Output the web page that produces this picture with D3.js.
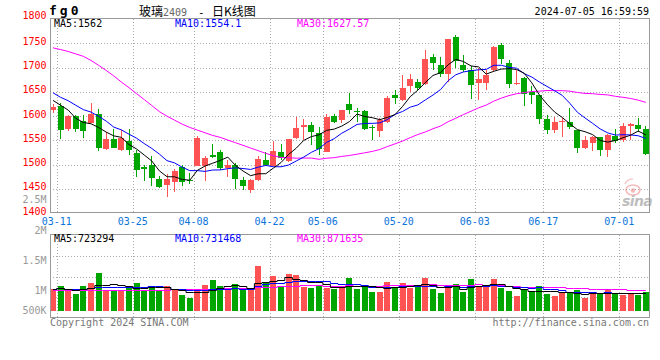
<!DOCTYPE html>
<html><head><meta charset="utf-8">
<script src="https://cdn.jsdelivr.net/npm/d3@7/dist/d3.min.js"></script>
<style>body{margin:0;background:#fff}svg{display:block}</style>
</head><body>
<svg id="c" width="660" height="360"></svg>
<script>
// ---------- data ----------
const dates = ["03-11","03-12","03-13","03-14","03-15","03-18","03-19","03-20","03-21","03-22",
"03-25","03-26","03-27","03-28","03-29","04-01","04-02","04-03","04-08","04-09",
"04-10","04-11","04-12","04-15","04-16","04-17","04-18","04-19","04-22","04-23",
"04-24","04-25","04-26","04-29","04-30","05-06","05-07","05-08","05-09","05-10",
"05-13","05-14","05-15","05-16","05-17","05-20","05-21","05-22","05-23","05-24",
"05-27","05-28","05-29","05-30","05-31","06-03","06-04","06-05","06-06","06-07",
"06-11","06-12","06-13","06-14","06-17","06-18","06-19","06-20","06-21","06-24",
"06-25","06-26","06-27","06-28","07-01","07-02","07-03","07-04","07-05"];
const openP = [1613,1620,1573,1600,1590,1586,1605,1532,1552,1529,1549,1524,1494,1498,1470,1458,1463,1494,1468,1497,
1497,1520,1526,1492,1499,1468,1448,1468,1509,1497,1525,1508,1554,1578,1581,1564,1526,1600,1591,1624,
1611,1611,1578,1570,1588,1643,1633,1661,1671,1667,1721,1706,1687,1762,1706,1694,1668,1668,1694,1747,
1710,1665,1679,1650,1643,1593,1572,1587,1588,1571,1535,1545,1556,1530,1559,1550,1580,1581,1574];
const highP = [1624,1627,1603,1602,1602,1627,1614,1568,1573,1571,1573,1529,1499,1518,1477,1481,1490,1499,1482,1559,
1518,1542,1530,1509,1503,1475,1470,1518,1525,1548,1542,1553,1598,1593,1588,1578,1604,1605,1613,1648,
1617,1612,1581,1595,1641,1654,1684,1686,1677,1736,1728,1721,1759,1768,1725,1704,1699,1694,1745,1750,
1716,1694,1680,1661,1643,1603,1597,1595,1617,1572,1559,1559,1557,1562,1574,1585,1585,1595,1579];
const lowP = [1606,1553,1570,1568,1554,1585,1527,1529,1533,1527,1520,1475,1465,1455,1451,1434,1444,1455,1460,1496,
1465,1513,1488,1475,1449,1447,1442,1466,1496,1496,1509,1506,1552,1550,1540,1520,1525,1585,1585,1605,
1588,1571,1550,1557,1586,1624,1631,1650,1653,1663,1695,1680,1670,1699,1690,1636,1632,1653,1690,1708,
1658,1663,1620,1624,1583,1563,1564,1556,1574,1524,1531,1527,1518,1515,1545,1547,1550,1568,1520];
const closeP = [1618,1571,1600,1574,1570,1605,1533,1552,1535,1555,1530,1488,1490,1473,1453,1470,1487,1463,1465,1555,
1514,1516,1492,1499,1470,1456,1468,1511,1500,1528,1513,1552,1575,1581,1567,1531,1598,1588,1612,1613,
1609,1573,1576,1591,1637,1637,1658,1676,1658,1717,1709,1687,1758,1713,1695,1663,1677,1684,1742,1718,
1667,1668,1646,1643,1593,1572,1587,1590,1578,1533,1550,1557,1530,1561,1549,1579,1583,1573,1522];
const volume = [902,1025,832,709,1025,1160,1570,861,820,820,1025,1160,861,955,820,1025,861,656,545,820,
1066,1271,1025,955,1107,861,861,1857,1160,1435,996,1517,1476,996,955,1066,955,902,955,1341,
902,1066,791,791,1189,996,1148,955,1066,1341,902,750,955,1107,791,1312,996,1066,1312,943,
820,627,902,808,1025,697,627,767,767,861,545,697,726,902,750,656,750,656,791].map(v => v * 1000);
// closes / volumes of the 9 sessions before 03-11 (estimated from the MA lines' start)
const prevCloses = [1665,1670,1668,1660,1655,1621,1650,1659,1613];
const prevVolumes = [900000,950000,880000,930000,960000,890000,940000,910000,930000];
// MA30 values for the first 29 sessions (earlier history not shown)
const ma30Head = [1740.5,1737,1733,1728,1723,1714.5,1704.5,1694,1682.5,1670,1658.4,1646,1634,1621.5,1609,1599.6,
1591.4,1583.2,1576.4,1571,1565.4,1560,1556,1550.4,1545,1539.5,1534,1528.5,1523];
const volMa30Head = [850,850,848,846,846,848,852,855,857,858,860,862,865,868,872,880,888,895,900,905,910,915,920,
925,930,940,950,965,985].map(v => v * 1000);
const priceTicks = [1400,1450,1500,1550,1600,1650,1700,1750,1800];
const dateTicks = ["03-11","03-25","04-08","04-22","05-06","05-20","06-03","06-17","07-01"];
const volTickLabels = ["2.5M","2M","1.5M","1M","500K"];
const volTickValues = [2500000,2000000,1500000,1000000,500000];
const priceMaLabels = ["MA5:1562","MA10:1554.1","MA30:1627.57"];
const volMaLabels = ["MA5:723294","MA10:731468","MA30:871635"];

// ---------- helpers ----------
function movingAvg(series, prev, n, i) {
  const all = prev.concat(series), j = i + prev.length;
  let s = 0; for (let k = j - n + 1; k <= j; k++) s += all[k];
  return s / n;
}
const N = dates.length;
const ma5 = d3.range(N).map(i => movingAvg(closeP, prevCloses, 5, i));
const ma10 = d3.range(N).map(i => movingAvg(closeP, prevCloses, 10, i));
const ma30 = d3.range(N).map(i => i < 29 ? ma30Head[i] : movingAvg(closeP, [], 30, i));
const vma5 = d3.range(N).map(i => movingAvg(volume, prevVolumes, 5, i));
const vma10 = d3.range(N).map(i => movingAvg(volume, prevVolumes, 10, i));
const vma30 = d3.range(N).map(i => i < 29 ? volMa30Head[i] : movingAvg(volume, [], 30, i));

// ---------- layout ----------
const L = 50, R = 650, T = 19, B = 213, VT = 235, VB = 318;
const mono = "'DejaVu Sans Mono', monospace";
const FS = 10;
const RED = "#ff5252", GREEN = "#00a600";
const svg = d3.select("#c");

const x = d3.scaleBand().domain(dates).range([49.2, 49.2 + 7.6 * N]);
const bw = x.bandwidth();
const cx = d => x(d) + bw / 2;
const y = d3.scaleLinear().domain([1400, 1800]).range([B, T]);
const yv = d3.scaleLinear().domain([0, 3116000]).range([311, VT]);
const yvLab = d3.scaleLinear().domain([500000, 1000000, 2500000]).range([314, 294, 203.3]);

// ---------- grid ----------
const grid = svg.append("g").attr("stroke", "#aaa").attr("stroke-dasharray", "1,2").attr("fill", "none");
priceTicks.filter(v => v > 1400 && v < 1800).forEach(v => {
  const yy = Math.round(y(v)) + 0.5;
  grid.append("line").attr("x1", L).attr("x2", R).attr("y1", yy).attr("y2", yy);
});
[1, 2, 3].forEach(k => {
  const yy = Math.round(VT + (VB - VT) * k / 4) + 0.5;
  grid.append("line").attr("x1", L).attr("x2", R).attr("y1", yy).attr("y2", yy);
});
dateTicks.forEach(d => {
  const xx = Math.round(x(d) + bw) + 0.5;
  grid.append("line").attr("x1", xx).attr("x2", xx).attr("y1", T).attr("y2", B);
  grid.append("line").attr("x1", xx).attr("x2", xx).attr("y1", VT).attr("y2", VB + 2);
});

// ---------- clip ----------
const defs = svg.append("defs");
defs.append("clipPath").attr("id", "cp").append("rect").attr("x", L).attr("y", T).attr("width", R - L).attr("height", B - T);
defs.append("clipPath").attr("id", "cv").append("rect").attr("x", L).attr("y", VT).attr("width", R - L).attr("height", VB - VT);

// ---------- sina watermark (behind marks) ----------
const wm = svg.append("g").attr("opacity", 0.55);
wm.append("ellipse").attr("cx", 633).attr("cy", 190).attr("rx", 7).attr("ry", 5)
  .attr("fill", "none").attr("stroke", "#f08080").attr("stroke-width", 1.6);
wm.append("circle").attr("cx", 633).attr("cy", 190.5).attr("r", 2.2).attr("fill", "#f08080");
wm.append("path").attr("d", "M625,184 q2,-5 8,-5").attr("fill", "none").attr("stroke", "#f08080").attr("stroke-width", 1.2);
wm.append("text").attr("x", 622).attr("y", 206).attr("font-family", "'DejaVu Sans', sans-serif")
  .attr("font-style", "italic").attr("font-weight", "bold").attr("font-size", 14).attr("letter-spacing", -0.6)
  .attr("fill", "#8a8a8a").text("sina");

// ---------- candles ----------
const main = svg.append("g").attr("clip-path", "url(#cp)");
dates.forEach((d, i) => {
  const o = openP[i], c = closeP[i], up = c >= o;
  const col = up ? RED : GREEN;
  const wx = Math.floor(cx(d)) + 0.5;
  main.append("line").attr("x1", wx).attr("x2", wx)
    .attr("y1", Math.round(y(highP[i]))).attr("y2", Math.round(y(lowP[i])))
    .attr("stroke", col).attr("stroke-width", 1);
  const top = Math.round(y(Math.max(o, c))), bot = Math.round(y(Math.min(o, c)));
  main.append("rect").attr("x", Math.round(cx(d) - 3)).attr("width", 6)
    .attr("y", top).attr("height", Math.max(1, bot - top)).attr("fill", col);
});
const line = d3.line().x((v, i) => cx(dates[i])).y(v => y(v));
[[ma30, "#ff00ff"], [ma10, "#0000ff"], [ma5, "#000"]].forEach(([s, col]) => {
  main.append("path").attr("d", line(s)).attr("fill", "none").attr("stroke", col).attr("stroke-width", 1);
});

// ---------- volume ----------
const vol = svg.append("g").attr("clip-path", "url(#cv)");
dates.forEach((d, i) => {
  const up = closeP[i] >= openP[i];
  const top = Math.round(yv(volume[i]));
  vol.append("rect").attr("x", Math.round(cx(d) - 3)).attr("width", 6)
    .attr("y", top).attr("height", 311 - top).attr("fill", up ? RED : GREEN);
});
const vline = d3.line().x((v, i) => cx(dates[i])).y(v => Math.round(yv(v)) + 0.5).curve(d3.curveStep);
[[vma30, "#ff00ff"], [vma10, "#0000ff"], [vma5, "#000"]].forEach(([s, col]) => {
  vol.append("path").attr("d", vline(s)).attr("fill", "none").attr("stroke", col).attr("stroke-width", 1);
});

// ---------- borders ----------
svg.append("rect").attr("x", L + 0.5).attr("y", T - 0.5).attr("width", R - L - 1).attr("height", B - T)
  .attr("fill", "none").attr("stroke", "#999");
svg.append("rect").attr("x", L + 0.5).attr("y", VT - 0.5).attr("width", R - L - 1).attr("height", VB - VT)
  .attr("fill", "none").attr("stroke", "#999");

// ---------- axis labels ----------
priceTicks.forEach(v => {
  svg.append("text").attr("x", 46.5).attr("y", v === 1800 ? 19 : y(v) + 1.5)
    .attr("text-anchor", "end").attr("font-family", mono).attr("font-size", FS)
    .attr("fill", "#f00").text(v);
});
volTickValues.forEach((v, i) => {
  svg.append("text").attr("x", 46.5).attr("y", yvLab(v))
    .attr("text-anchor", "end").attr("font-family", mono).attr("font-size", FS)
    .attr("fill", "#999").text(volTickLabels[i]);
});
dateTicks.forEach(d => {
  svg.append("text").attr("x", x(d) + bw).attr("y", 224.5)
    .attr("text-anchor", "middle").attr("font-family", mono).attr("font-size", FS)
    .attr("fill", "#0a74da").text(d);
});

// ---------- MA legends ----------
const legX = [54, 175, 297], legC = ["#000", "#0000ff", "#ff00ff"];
priceMaLabels.forEach((t, i) => svg.append("text").attr("x", legX[i]).attr("y", 27)
  .attr("font-family", mono).attr("font-size", FS).attr("fill", legC[i]).text(t));
volMaLabels.forEach((t, i) => svg.append("text").attr("x", legX[i]).attr("y", 242)
  .attr("font-family", mono).attr("font-size", FS).attr("fill", legC[i]).text(t));

// ---------- titles ----------
svg.append("text").attr("x", 49).attr("y", 15).attr("font-family", mono).attr("font-weight", "bold")
  .attr("font-size", 13).attr("letter-spacing", 3).text("fg0");
const cjk = "'Noto Sans CJK SC', sans-serif";
svg.append("text").attr("x", 139).attr("y", 15.5).attr("font-family", cjk).attr("font-size", 12).text("玻璃");
svg.append("text").attr("x", 163).attr("y", 15.5).attr("font-family", mono).attr("font-size", FS).attr("fill", "#666").text("2409");
svg.append("text").attr("x", 198).attr("y", 15.5).attr("font-family", mono).attr("font-size", 11).text("-");
svg.append("text").attr("x", 212).attr("y", 15.5).attr("font-family", cjk).attr("font-size", 12).text("日K线图");
svg.append("text").attr("x", 649).attr("y", 15).attr("text-anchor", "end").attr("font-family", mono)
  .attr("font-size", FS).text("2024-07-05 16:59:59");

// ---------- footer ----------
svg.append("text").attr("x", 50).attr("y", 326).attr("font-family", mono).attr("font-size", FS)
  .attr("fill", "#777").text("Copyright 2024 SINA.COM");
svg.append("text").attr("x", 649).attr("y", 326).attr("text-anchor", "end").attr("font-family", mono)
  .attr("font-size", FS).attr("fill", "#777").text("http://finance.sina.com.cn");
</script>
</body></html>
